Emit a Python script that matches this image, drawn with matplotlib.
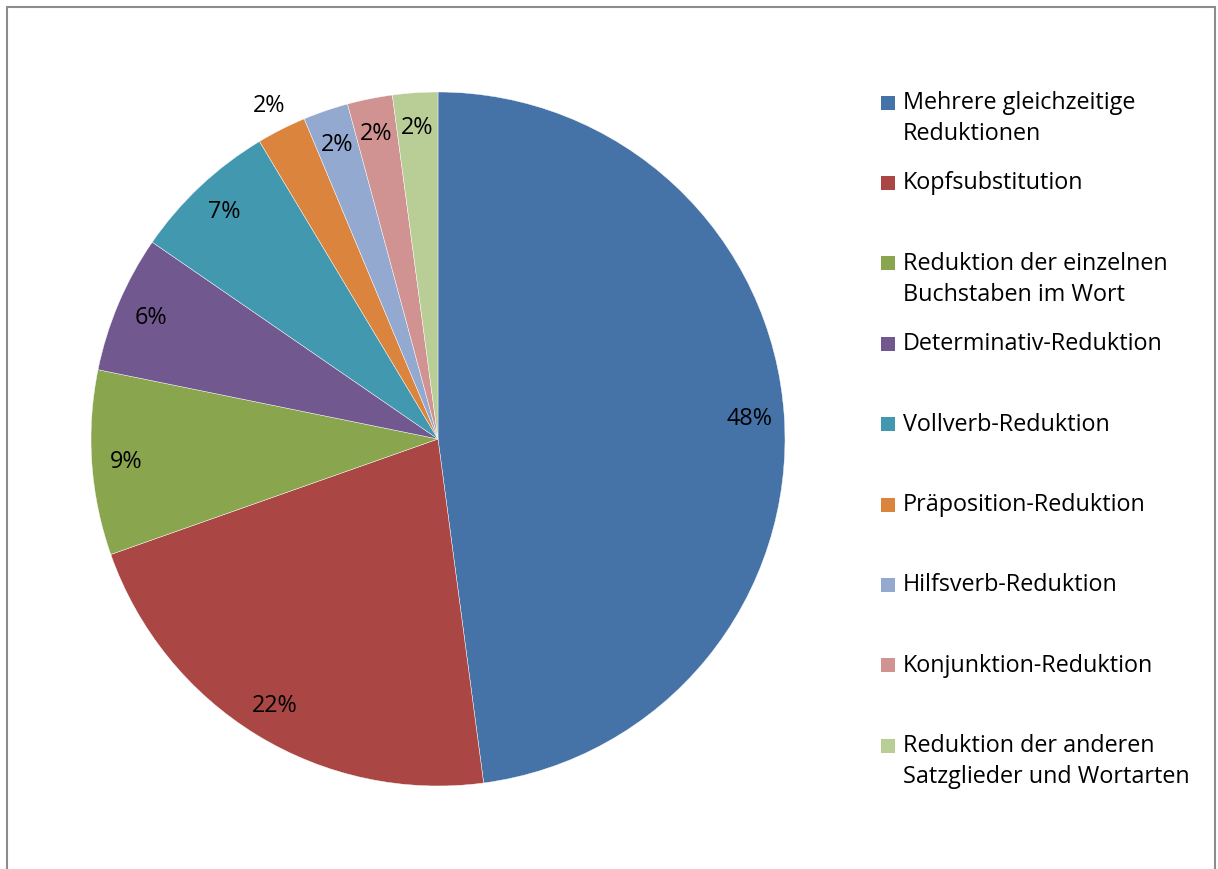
import matplotlib.pyplot as plt
from matplotlib.patches import Rectangle

categories = ["Mehrere gleichzeitige\nReduktionen", "Kopfsubstitution",
              "Reduktion der einzelnen\nBuchstaben im Wort", "Determinativ-Reduktion",
              "Vollverb-Reduktion", "Präposition-Reduktion", "Hilfsverb-Reduktion",
              "Konjunktion-Reduktion", "Reduktion der anderen\nSatzglieder und Wortarten"]
values = [47.9, 21.7, 8.6, 6.4, 6.8, 2.3, 2.1, 2.1, 2.1]
colors = ["#4572A7", "#AA4643", "#89A54E", "#71588F", "#4198AF",
          "#DB843D", "#93A9CF", "#D19392", "#B9CD96"]

plt.rcParams['font.family'] = ['Open Sans', 'DejaVu Sans']
fs = 16.8

W, H = 1218, 870
fig = plt.figure(figsize=(12.18, 8.70), dpi=100)

# grey chart border
fig.patches.append(Rectangle((7 / W, -0.01), (1215 - 7) / W, 1.01 - 8 / H,
                             transform=fig.transFigure, fill=False,
                             edgecolor="#8c8c8c", linewidth=1.5))

cx, cy, r = 438, 440, 347
ax = fig.add_axes([(cx - r) / W, (H - cy - r) / H, 2 * r / W, 2 * r / H])
wedges, texts, autotexts = ax.pie(values, colors=colors, startangle=90, counterclock=False,
                                  autopct=lambda p: "%d%%" % round(p), pctdistance=0.9,
                                  wedgeprops=dict(edgecolor="white", linewidth=0.3),
                                  textprops=dict(fontsize=fs, color="black"))
# small orange slice label sits outside
x, y = autotexts[5].get_position()
autotexts[5].set_position((x * 1.08 / 0.9, y * 1.08 / 0.9))
ax.set_xlim(-1, 1)
ax.set_ylim(-1, 1)
ax.set_aspect("equal")
ax.axis("off")

# legend, drawn by hand to match the spacing
top = 103
step = 80.4
for i, (lab, col) in enumerate(zip(categories, colors)):
    yc = top + i * step
    fig.patches.append(Rectangle((881 / W, 1 - (yc + 7.5) / H), 14 / W, 14 / H,
                                 transform=fig.transFigure, facecolor=col, edgecolor="none"))
    for j, line in enumerate(lab.split("\n")):
        fig.text(903 / W, 1 - (yc + j * 31) / H, line, fontsize=fs, va="center", ha="left")

fig.savefig("out.png", dpi=100)
